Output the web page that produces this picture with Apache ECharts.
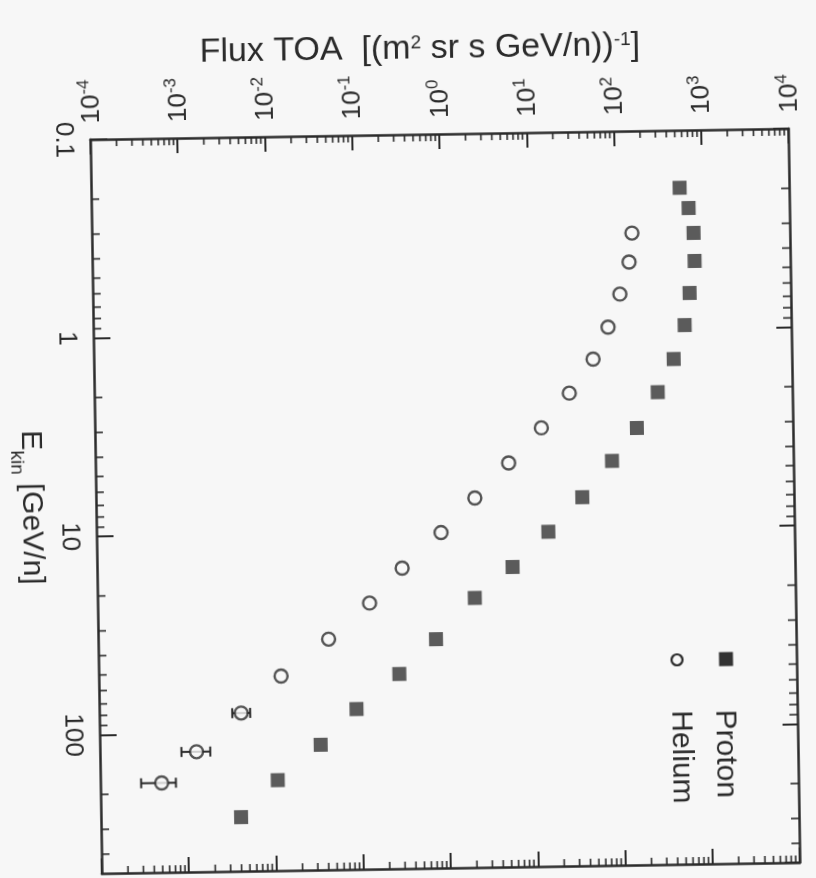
<!DOCTYPE html>
<html>
<head>
<meta charset="utf-8">
<title>Flux TOA - Proton / Helium</title>
<script src="https://cdn.jsdelivr.net/npm/echarts@6/dist/echarts.min.js"></script>
<style>
html, body { margin: 0; padding: 0; background: #f7f7f7; overflow: hidden; }
/* the scanned figure sits slightly tilted */
#main { width: 816px; height: 878px; transform: rotate(-0.9deg); transform-origin: 443px 501px; }
</style>
</head>
<body>
<div id="main"></div>
<script>
// data ------------------------------------------------------
var protonE = [0.195, 0.247, 0.33, 0.457, 0.662, 0.96, 1.42, 2.08, 3.14, 4.58,
    6.94, 10.3, 15.4, 21.9, 35.1, 52.2, 77.8, 117, 175, 267];
var protonFlux = [556, 699, 789, 801, 693, 600, 443, 287, 163, 83.4,
    37.5, 15.1, 5.79, 2.11, 0.745, 0.279, 0.0888, 0.034, 0.0108, 0.00404];

var heliumE = [0.327, 0.457, 0.662, 0.97, 1.40, 2.07, 3.08, 4.6, 6.87, 10.2,
    15.3, 22.8, 34.4, 52.3, 79.8, 124, 177];
var heliumFlux = [155, 142, 110, 79.4, 52.8, 27.8, 13.1, 5.45, 2.20, 0.889,
    0.314, 0.131, 0.0438, 0.0123, 0.00423, 0.00128, 0.000504];

// visible error bars (last helium points)
var heErrE = [79.8, 124, 177];
var heErrLo = [0.00334, 0.00086, 0.000293];
var heErrHi = [0.00536, 0.00184, 0.000734];

var fluxMin = 1e-4, fluxMax = 1e4;
var eMin = 0.1, eMax = 500;
var legendNames = ['Proton', 'Helium'];

var FONT = "'Liberation Sans', Arial, sans-serif";
var INK = '#2a2a2a';

// minor ticks 2..9 of every decade
var minorFlux = [];
for (var p = -4; p < 4; p++) {
    for (var m = 2; m < 10; m++) minorFlux.push(m * Math.pow(10, p));
}
var minorE = [];
for (var q = -1; q < 3; q++) {
    for (var k = 2; k < 10; k++) {
        if (k * Math.pow(10, q) < eMax) minorE.push(k * Math.pow(10, q));
    }
}

function zip(a, b) {
    return a.map(function (v, i) { return [b[i], v]; });
}

var myChart = echarts.init(document.getElementById('main'));

function tickLine(x1, y1, x2, y2) {
    return {
        type: 'line',
        shape: { x1: x1, y1: y1, x2: x2, y2: y2 },
        style: { stroke: INK, lineWidth: 1.6 }
    };
}

function renderMinorTicks(params, api) {
    var kids = [];
    minorFlux.forEach(function (v) {
        var t = api.coord([v, eMin]);
        var b = api.coord([v, eMax]);
        kids.push(tickLine(t[0], t[1], t[0], t[1] + 7));
        kids.push(tickLine(b[0], b[1], b[0], b[1] - 7));
    });
    minorE.forEach(function (v) {
        var l = api.coord([fluxMin, v]);
        var r = api.coord([fluxMax, v]);
        kids.push(tickLine(l[0], l[1], l[0] + 8, l[1]));
        kids.push(tickLine(r[0], r[1], r[0] - 8, r[1]));
    });
    return { type: 'group', children: kids };
}

function renderErr(params, api) {
    var lo = api.coord([api.value(0), api.value(2)]);
    var hi = api.coord([api.value(1), api.value(2)]);
    var st = { stroke: INK, lineWidth: 2 };
    return {
        type: 'group',
        children: [
            { type: 'line', shape: { x1: lo[0], y1: lo[1], x2: hi[0], y2: hi[1] }, style: st },
            { type: 'line', shape: { x1: lo[0], y1: lo[1] - 5, x2: lo[0], y2: lo[1] + 5 }, style: st },
            { type: 'line', shape: { x1: hi[0], y1: hi[1] - 5, x2: hi[0], y2: hi[1] + 5 }, style: st }
        ]
    };
}

var frameAxis = {
    type: 'log',
    logBase: 10,
    axisLine: { show: true, lineStyle: { color: INK, width: 2.5 } },
    axisTick: { show: true, inside: true, length: 15, lineStyle: { color: INK, width: 2 } },
    splitLine: { show: false }
};

var option = {
    backgroundColor: 'transparent',
    animation: false,
    textStyle: { fontFamily: FONT, color: INK },
    grid: { left: 92, right: 22, top: 134, bottom: 10, containLabel: false },
    xAxis: [
        echarts.util.merge({
            position: 'top',
            min: fluxMin,
            max: fluxMax,
            name: '{t|Flux TOA  [(m}{s|2}{t| sr s GeV/n))}{s|-1}{t|]}',
            nameLocation: 'middle',
            nameGap: 68,
            nameTextStyle: {
                padding: [0, 36, 0, 0],
                rich: {
                    t: { fontSize: 34, fontFamily: FONT, color: INK, verticalAlign: 'bottom' },
                    s: { fontSize: 19, fontFamily: FONT, color: INK, verticalAlign: 'bottom', padding: [0, 0, 14, 0] }
                }
            },
            axisLabel: {
                rotate: -90,
                margin: 16,
                showMinLabel: true,
                showMaxLabel: true,
                formatter: function (v) {
                    return '{b|10}{s|' + Math.round(Math.log10(v)) + '}';
                },
                rich: {
                    b: { fontSize: 26, fontFamily: FONT, color: INK, verticalAlign: 'bottom' },
                    s: { fontSize: 17, fontFamily: FONT, color: INK, verticalAlign: 'bottom', padding: [0, 0, 12, 0] }
                }
            }
        }, frameAxis, true),
        echarts.util.merge({
            position: 'bottom',
            min: fluxMin,
            max: fluxMax,
            axisLabel: { show: false }
        }, frameAxis, true)
    ],
    yAxis: [
        echarts.util.merge({
            position: 'left',
            inverse: true,
            min: eMin,
            max: eMax,
            name: '{e|E}{k|kin}{e| [GeV/n]}',
            nameLocation: 'middle',
            nameRotate: -90,
            nameGap: 50,
            nameTextStyle: {
                rich: {
                    e: { fontSize: 30, fontFamily: FONT, color: INK, verticalAlign: 'bottom', padding: [0, 0, 8, 0] },
                    k: { fontSize: 19, fontFamily: FONT, color: INK, verticalAlign: 'bottom' }
                }
            },
            axisTick: { length: 17 },
            axisLabel: {
                rotate: -90,
                margin: 14,
                fontSize: 26,
                color: INK,
                showMinLabel: true,
                showMaxLabel: false,
                formatter: function (v) {
                    var e = Math.round(Math.log10(v));
                    return e < 0 ? '0.1' : String(Math.pow(10, e));
                }
            }
        }, frameAxis, false),
        echarts.util.merge({
            position: 'right',
            inverse: true,
            min: eMin,
            max: eMax,
            axisLabel: { show: false }
        }, frameAxis, true)
    ],
    graphic: [
        { type: 'rect', shape: { x: 716.5, y: 656.5, width: 14, height: 14 }, style: { fill: '#333' } },
        {
            type: 'text', x: 721, y: 714, rotation: -Math.PI / 2,
            style: { text: legendNames[0], font: '30px ' + FONT, fill: INK, align: 'left', verticalAlign: 'middle' }
        },
        { type: 'circle', shape: { cx: 674.5, cy: 663.5, r: 5.5 }, style: { fill: '#f7f7f7', stroke: INK, lineWidth: 2.2 } },
        {
            type: 'text', x: 677, y: 714, rotation: -Math.PI / 2,
            style: { text: legendNames[1], font: '30px ' + FONT, fill: INK, align: 'left', verticalAlign: 'middle' }
        }
    ],
    series: [
        {
            type: 'custom',
            name: 'minor ticks',
            renderItem: renderMinorTicks,
            data: [[1, 1]],
            silent: true,
            z: 1
        },
        {
            type: 'custom',
            name: 'Helium errors',
            renderItem: renderErr,
            encode: { x: [0, 1], y: 2 },
            data: heErrE.map(function (e, i) { return [heErrLo[i], heErrHi[i], e]; }),
            z: 2
        },
        {
            name: legendNames[0],
            type: 'scatter',
            symbol: 'rect',
            symbolSize: 14,
            itemStyle: { color: '#333' },
            data: zip(protonE, protonFlux),
            z: 3
        },
        {
            name: legendNames[1],
            type: 'scatter',
            symbol: 'circle',
            symbolSize: 13,
            itemStyle: { color: '#f7f7f7', borderColor: INK, borderWidth: 2.4 },
            data: zip(heliumE, heliumFlux),
            z: 4
        }
    ]
};

myChart.setOption(option);

window.addEventListener('resize', function () {
    myChart.resize();
});
</script>
</body>
</html>
